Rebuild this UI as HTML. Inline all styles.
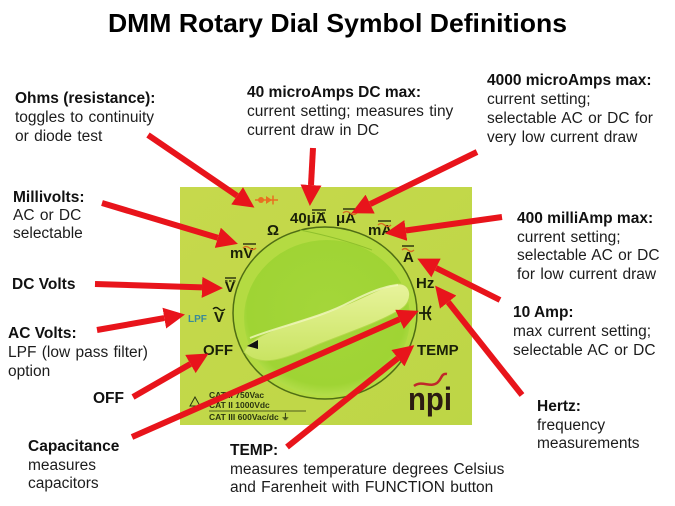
<!DOCTYPE html>
<html>
<head>
<meta charset="utf-8">
<style>
html,body{margin:0;padding:0;background:#fff;}
svg{display:block;}
text{font-family:"Liberation Sans",Arial,sans-serif;}
.b{font-weight:bold;fill:#111;font-size:15.5px;}
.n{fill:#1c1c1c;font-size:15.5px;word-spacing:1px;}
.d{font-weight:bold;fill:#1a2008;font-size:15px;}
.c{fill:#2a3510;font-size:8.5px;font-weight:bold;}
</style>
</head>
<body>
<svg width="675" height="506" viewBox="0 0 675 506" xmlns="http://www.w3.org/2000/svg">
<defs>
  <linearGradient id="bg" x1="0" y1="0" x2="1" y2="1">
    <stop offset="0" stop-color="#c6d94c"/>
    <stop offset="1" stop-color="#bdd646"/>
  </linearGradient>
  <radialGradient id="face" cx="0.5" cy="0.45" r="0.6">
    <stop offset="0" stop-color="#a4d63a"/>
    <stop offset="0.8" stop-color="#9fd434"/>
    <stop offset="1" stop-color="#c2e45a"/>
  </radialGradient>
  <linearGradient id="knob" x1="0" y1="0" x2="0" y2="1">
    <stop offset="0" stop-color="#e8f39c"/>
    <stop offset="1" stop-color="#c9e462"/>
  </linearGradient>
  <marker id="ah" markerUnits="userSpaceOnUse" markerWidth="21" markerHeight="21" viewBox="0 0 21 21" refX="0" refY="10.5" orient="auto">
    <path d="M0,0 L21,10.5 L0,21 Z" fill="#e8141b"/>
  </marker>
</defs>

<!-- title -->
<text x="337.5" y="32" text-anchor="middle" font-weight="bold" font-size="26" fill="#000" textLength="459" lengthAdjust="spacingAndGlyphs">DMM Rotary Dial Symbol Definitions</text>

<!-- photo -->
<rect x="180" y="187" width="292" height="238" fill="url(#bg)"/>
<ellipse cx="325" cy="313" rx="92" ry="86" fill="#b4db42" stroke="#4f6d14" stroke-width="1.5"/>
<ellipse cx="327" cy="318" rx="83" ry="78" fill="url(#face)"/>
<path d="M300,230 Q340,238 372,250" stroke="#8fc02c" stroke-width="1" fill="none"/>
<path d="M244,352 C250,334 292,324 330,311 C362,300 378,288 397,284 C412,282 414,301 401,309 C380,322 352,331 322,343 C292,355 262,371 244,352 Z" fill="url(#knob)" stroke="#b5d84c" stroke-width="1"/>
<path d="M250,338 C280,326 320,318 350,302 C370,292 385,286 398,285" stroke="#f2f8c0" stroke-width="2" fill="none" opacity="0.8"/>
<polygon points="247,346 258,340 258,349" fill="#111"/>

<!-- dial labels -->
<line x1="255" y1="200" x2="278" y2="200" stroke="#e87020" stroke-width="1.5"/>
<circle cx="261" cy="200" r="3" fill="#e87020"/>
<polygon points="266,196 266,204 272,200" fill="#e87020"/>
<line x1="273" y1="195.5" x2="273" y2="204.5" stroke="#e87020" stroke-width="1.5"/>
<text class="d" x="267" y="235">Ω</text>
<text class="d" x="290" y="223">40μA</text>
<line x1="312" y1="210" x2="326" y2="210" stroke="#1a2008" stroke-width="1.3"/>
<line x1="312" y1="213" x2="326" y2="213" stroke="#1a2008" stroke-width="1.3" stroke-dasharray="3,2"/>
<text class="d" x="336" y="223">μA</text>
<line x1="343" y1="209" x2="357" y2="209" stroke="#1a2008" stroke-width="1.3"/>
<path d="M343,213 q3.5,-3 7,0 t7,0" stroke="#d86a20" stroke-width="1.3" fill="none"/>
<text class="d" x="368" y="235">mA</text>
<line x1="378" y1="221" x2="391" y2="221" stroke="#1a2008" stroke-width="1.3"/>
<path d="M378,225 q3,-3 6.5,0 t6.5,0" stroke="#d86a20" stroke-width="1.3" fill="none"/>
<text class="d" x="403" y="262">A</text>
<line x1="402" y1="246" x2="414" y2="246" stroke="#1a2008" stroke-width="1.3"/>
<path d="M402,250 q3,-3 6,0 t6,0" stroke="#d86a20" stroke-width="1.3" fill="none"/>
<text class="d" x="416" y="288">Hz</text>
<line x1="419" y1="313" x2="431" y2="313" stroke="#1a2008" stroke-width="1.8"/>
<line x1="424" y1="306" x2="424" y2="320" stroke="#1a2008" stroke-width="1.8"/>
<path d="M431,306 Q425,313 431,320" stroke="#1a2008" stroke-width="1.8" fill="none"/>
<text class="d" x="417" y="355" font-size="14.5">TEMP</text>
<text class="d" x="203" y="355" font-size="15.5">OFF</text>
<text x="188" y="322" font-size="10" font-weight="bold" fill="#3a8a98">LPF</text>
<text class="d" x="214" y="322">V</text>
<path d="M213,309 q3,-3 6,0 t6,0" stroke="#1a2008" stroke-width="1.4" fill="none"/>
<text class="d" x="225" y="292">V</text>
<line x1="225" y1="278" x2="236" y2="278" stroke="#1a2008" stroke-width="1.3"/>
<line x1="225" y1="281" x2="236" y2="281" stroke="#1a2008" stroke-width="1.3" stroke-dasharray="2.5,1.5"/>
<text class="d" x="230" y="258">mV</text>
<line x1="243" y1="244" x2="256" y2="244" stroke="#1a2008" stroke-width="1.3"/>
<path d="M243,248 q3,-3 6.5,0 t6.5,0" stroke="#d86a20" stroke-width="1.3" fill="none"/>

<!-- CAT ratings -->
<polygon points="195,397 190,406 200,406" fill="none" stroke="#2a3510" stroke-width="1"/>
<text class="c" x="209" y="398">CAT II  750Vac</text>
<text class="c" x="209" y="408">CAT II 1000Vdc</text>
<line x1="209" y1="411" x2="306" y2="411" stroke="#2a3510" stroke-width="0.8"/>
<text class="c" x="209" y="420">CAT III  600Vac/dc ⏚</text>

<!-- logo -->
<text x="408" y="410" font-size="32" font-weight="bold" fill="#2b1b12" textLength="44" lengthAdjust="spacingAndGlyphs">npi</text>
<path d="M414,386 C422,380 430,388 437,383 C442,379 441,373 447,374" stroke="#c0282a" stroke-width="2.5" fill="none"/>

<!-- arrows -->
<g stroke="#e8141b" stroke-width="6" marker-end="url(#ah)" fill="none">
  <line x1="148" y1="135" x2="237.1" y2="195.8"/>
  <line x1="313" y1="148" x2="311.0" y2="185.0"/>
  <line x1="477" y1="152" x2="370.2" y2="204.1"/>
  <line x1="502" y1="217" x2="405.8" y2="230.5"/>
  <line x1="500" y1="300" x2="436.1" y2="268.0"/>
  <line x1="522" y1="395" x2="448.2" y2="302.1"/>
  <line x1="132" y1="437" x2="399.5" y2="319.3"/>
  <line x1="287" y1="447" x2="397.9" y2="358.2"/>
  <line x1="133" y1="397" x2="190.4" y2="364.0"/>
  <line x1="97" y1="330" x2="164.3" y2="318.1"/>
  <line x1="95" y1="284" x2="202.0" y2="287.4"/>
  <line x1="102" y1="203" x2="217.8" y2="237.8"/>
</g>

<!-- labels -->
<text class="b" x="15" y="103">Ohms (resistance):</text>
<text class="n" x="15" y="122">toggles to continuity</text>
<text class="n" x="15" y="141">or diode test</text>

<text class="b" x="247" y="97">40 microAmps DC max:</text>
<text class="n" x="247" y="116">current setting; measures tiny</text>
<text class="n" x="247" y="135">current draw in DC</text>

<text class="b" x="487" y="85">4000 microAmps max:</text>
<text class="n" x="487" y="104">current setting;</text>
<text class="n" x="487" y="123">selectable AC or DC for</text>
<text class="n" x="487" y="142">very low current draw</text>

<text class="b" x="13" y="202">Millivolts:</text>
<text class="n" x="13" y="220">AC or DC</text>
<text class="n" x="13" y="238">selectable</text>

<text class="b" x="517" y="223">400 milliAmp max:</text>
<text class="n" x="517" y="242">current setting;</text>
<text class="n" x="517" y="260">selectable AC or DC</text>
<text class="n" x="517" y="279">for low current draw</text>

<text class="b" x="12" y="289">DC Volts</text>

<text class="b" x="8" y="338">AC Volts:</text>
<text class="n" x="8" y="357">LPF (low pass filter)</text>
<text class="n" x="8" y="376">option</text>

<text class="b" x="93" y="403">OFF</text>

<text class="b" x="28" y="451">Capacitance</text>
<text class="n" x="28" y="470">measures</text>
<text class="n" x="28" y="488">capacitors</text>

<text class="b" x="230" y="455">TEMP:</text>
<text class="n" x="230" y="474">measures temperature degrees Celsius</text>
<text class="n" x="230" y="492">and Farenheit with FUNCTION button</text>

<text class="b" x="513" y="317">10 Amp:</text>
<text class="n" x="513" y="336">max current setting;</text>
<text class="n" x="513" y="355">selectable AC or DC</text>

<text class="b" x="537" y="411">Hertz:</text>
<text class="n" x="537" y="430">frequency</text>
<text class="n" x="537" y="448">measurements</text>
</svg>
</body>
</html>
